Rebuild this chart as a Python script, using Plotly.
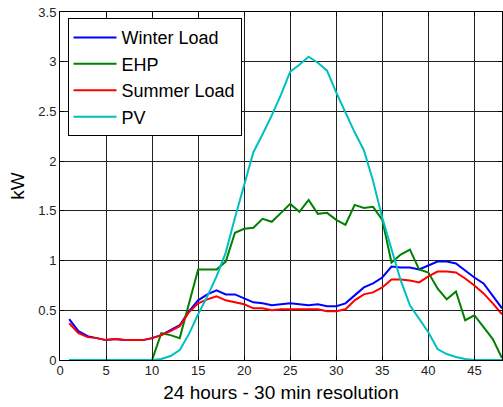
import plotly.graph_objects as go

hours = list(range(1, 49))

winter_load = [0.41, 0.29, 0.24, 0.22, 0.20, 0.21, 0.20, 0.20, 0.20, 0.22,
               0.25, 0.30, 0.35, 0.49, 0.60, 0.66, 0.70, 0.66, 0.66, 0.62,
               0.58, 0.57, 0.55, 0.56, 0.57, 0.56, 0.55, 0.56, 0.54, 0.54,
               0.57, 0.65, 0.73, 0.77, 0.83, 0.94, 0.93, 0.93, 0.91, 0.95,
               0.99, 0.99, 0.97, 0.90, 0.83, 0.77, 0.65, 0.52]

ehp = [0.0, 0.0, 0.0, 0.0, 0.0, 0.0, 0.0, 0.0, 0.0, 0.0,
       0.27, 0.25, 0.22, 0.57, 0.91, 0.91, 0.91, 0.99, 1.28, 1.32,
       1.33, 1.42, 1.39, 1.48, 1.57, 1.49, 1.61, 1.47, 1.48, 1.41,
       1.36, 1.56, 1.53, 1.54, 1.41, 0.98, 1.06, 1.11, 0.91, 0.88,
       0.72, 0.61, 0.69, 0.40, 0.45, 0.33, 0.21, 0.02]

summer_load = [0.37, 0.27, 0.23, 0.22, 0.20, 0.21, 0.20, 0.20, 0.20, 0.22,
               0.25, 0.29, 0.34, 0.48, 0.57, 0.61, 0.64, 0.60, 0.58, 0.56,
               0.52, 0.52, 0.50, 0.51, 0.51, 0.51, 0.51, 0.51, 0.49, 0.49,
               0.51, 0.60, 0.66, 0.68, 0.73, 0.81, 0.81, 0.80, 0.78, 0.84,
               0.89, 0.89, 0.88, 0.82, 0.75, 0.67, 0.57, 0.46]

pv = [0.0, 0.0, 0.0, 0.0, 0.0, 0.0, 0.0, 0.0, 0.0, 0.0,
      0.01, 0.04, 0.10, 0.26, 0.46, 0.64, 0.84, 1.08, 1.43, 1.77,
      2.09, 2.27, 2.46, 2.67, 2.90, 2.97, 3.05, 2.99, 2.91, 2.69,
      2.49, 2.29, 2.11, 1.80, 1.43, 1.11, 0.80, 0.55, 0.41, 0.28,
      0.11, 0.06, 0.03, 0.01, 0.0, 0.0, 0.0, 0.0]

x_ticks = [0, 5, 10, 15, 20, 25, 30, 35, 40, 45]
y_ticks = [0, 0.5, 1, 1.5, 2, 2.5, 3, 3.5]
y_tick_labels = ["0", "0.5", "1", "1.5", "2", "2.5", "3", "3.5"]

series = [
    ("Winter Load", winter_load, "#0000FF"),
    ("EHP", ehp, "#008000"),
    ("Summer Load", summer_load, "#FF0000"),
    ("PV", pv, "#00BFBF"),
]

fig = go.Figure()
for name, vals, col in series:
    fig.add_trace(go.Scatter(x=hours, y=vals, mode="lines", name=name,
                             line=dict(color=col, width=2)))

axis_common = dict(
    showline=True, linecolor="black", linewidth=1, mirror="ticks",
    ticks="inside", ticklen=4, tickcolor="black",
    showgrid=True, gridcolor="#222222", gridwidth=1,
    zeroline=False,
    tickfont=dict(family="Liberation Sans, Arial", size=13, color="#222"),
)

fig.update_layout(
    width=503, height=407,
    margin=dict(l=60, r=1, t=12, b=47),
    paper_bgcolor="white", plot_bgcolor="white",
    font=dict(family="Liberation Sans, Arial", color="black"),
    xaxis=dict(range=[0, 48], tickvals=x_ticks, ticklabelstandoff=-2,
               title=dict(text="24 hours - 30 min resolution",
                          font=dict(size=19), standoff=9),
               **axis_common),
    yaxis=dict(range=[0, 3.5], tickvals=y_ticks, ticktext=y_tick_labels,
               title=dict(text="kW", font=dict(size=19), standoff=8),
               **axis_common),
    legend=dict(x=0.017, y=0.982, xanchor="left", yanchor="top",
                bgcolor="white", bordercolor="black", borderwidth=1,
                font=dict(size=18, color="black"), itemwidth=43,
                tracegroupgap=0),
    showlegend=True,
)

fig.write_html("out.html", config={"displayModeBar": False},
               post_script="document.body.style.margin='0';")
